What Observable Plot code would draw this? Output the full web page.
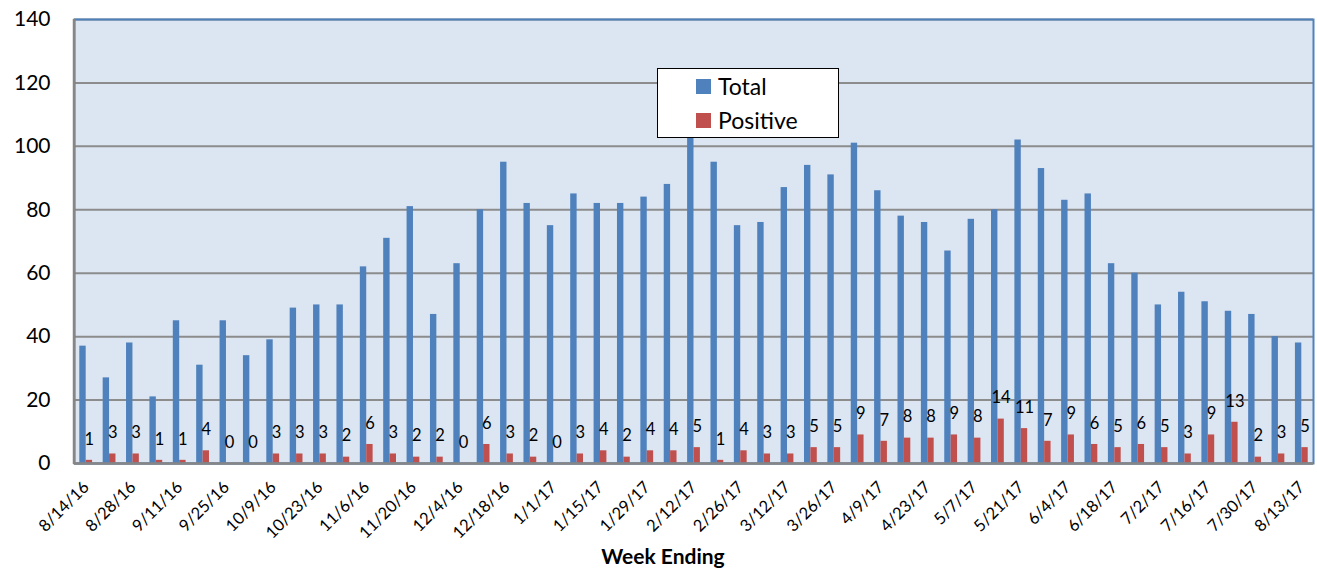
<!DOCTYPE html>
<html><head><meta charset="utf-8">
<script src="https://cdn.jsdelivr.net/npm/d3@7"></script>
<script src="https://cdn.jsdelivr.net/npm/@observablehq/plot@0.6"></script>
<style>
body{margin:0;background:#fff;font-family:Lato,"Open Sans",sans-serif;color:#000;}
#wrap{position:relative;width:1317px;height:568px;}
#chart svg{overflow:visible;}
#xlabel{position:absolute;left:513px;width:300px;top:543px;text-align:center;font-weight:bold;font-size:21px;line-height:26px;}
#legend{position:absolute;left:657px;top:68px;width:182px;height:70px;background:#fff;border:1.5px solid #000;box-sizing:border-box;padding-left:38px;padding-top:0px;}
.item{display:flex;align-items:center;height:34px;font-size:23px;}
.sw{width:15px;height:15px;margin-right:7px;}
</style></head><body>
<div id="wrap"><div id="chart"></div><div id="xlabel">Week Ending</div><div id="legend"></div></div>
<script>
const weeks = ["8/14/16","8/21/16","8/28/16","9/4/16","9/11/16","9/18/16","9/25/16","10/2/16","10/9/16","10/16/16","10/23/16","10/30/16","11/6/16","11/13/16","11/20/16","11/27/16","12/4/16","12/11/16","12/18/16","12/25/16","1/1/17","1/8/17","1/15/17","1/22/17","1/29/17","2/5/17","2/12/17","2/19/17","2/26/17","3/5/17","3/12/17","3/19/17","3/26/17","4/2/17","4/9/17","4/16/17","4/23/17","4/30/17","5/7/17","5/14/17","5/21/17","5/28/17","6/4/17","6/11/17","6/18/17","6/25/17","7/2/17","7/9/17","7/16/17","7/23/17","7/30/17","8/6/17","8/13/17"];
const total = [37,27,38,21,45,31,45,34,39,49,50,50,62,71,81,47,63,80,95,82,75,85,82,82,84,88,104,95,75,76,87,94,91,101,86,78,76,67,77,80,102,93,83,85,63,60,50,54,51,48,47,40,38];
const positive = [1,3,3,1,1,4,0,0,3,3,3,2,6,3,2,2,0,6,3,2,0,3,4,2,4,4,5,1,4,3,3,5,5,9,7,8,8,9,8,14,11,7,9,6,5,6,5,3,9,13,2,3,5];
const tickLabels = weeks.filter((d, i) => i % 2 === 0);
const yTicks = [0,20,40,60,80,100,120,140];
const seriesNames = ["Total","Positive"];
const seriesColors = ["#4F81BD","#C0504D"];

const rows = weeks.map((w, i) => ({week: w, total: total[i], positive: positive[i]}));

const W = 1317, H = 568, mL = 74, mR = 4, mT = 19, mB = 105;
const bw = (W - mL - mR) / weeks.length;
const barW = 6.4;

const leftLine = (index, scales, values, dims) => {
  const l = document.createElementNS("http://www.w3.org/2000/svg", "line");
  l.setAttribute("x1", dims.marginLeft); l.setAttribute("x2", dims.marginLeft);
  l.setAttribute("y1", dims.marginTop); l.setAttribute("y2", dims.height - dims.marginBottom + 1);
  l.setAttribute("stroke", "#868686"); l.setAttribute("stroke-width", 2.5);
  return l;
};

const chart = Plot.plot({
  width: W, height: H,
  marginLeft: mL, marginRight: mR, marginTop: mT, marginBottom: mB,
  style: {fontFamily: "Lato, 'Open Sans', sans-serif", color: "#000", background: "#fff"},
  x: {domain: weeks, padding: 0, round: false},
  y: {domain: [0, 140]},
  marks: [
    Plot.frame({fill: "#DCE6F2", stroke: "none"}),
    Plot.gridY(yTicks, {stroke: "#8c8c8c", strokeOpacity: 1, strokeWidth: 2}),
    Plot.barY(rows, {x: "week", y: "total", fill: seriesColors[0], insetLeft: bw/2 - barW, insetRight: bw/2}),
    Plot.barY(rows, {x: "week", y: "positive", fill: seriesColors[1], insetLeft: bw/2, insetRight: bw/2 - barW}),
    Plot.frame({stroke: "#4F81BD", strokeWidth: 2, fill: "none"}),
    Plot.ruleY([0], {stroke: "#868686", strokeWidth: 2.5}),
    leftLine,
    Plot.text(rows, {x: "week", y: "positive", text: d => String(d.positive), dx: 3.2, dy: -21, fontSize: 16.5, lineAnchor: "middle", fill: "#000"}),
    Plot.axisY(yTicks, {tickSize: 0, tickPadding: 24, fontSize: 21, label: null}),
    Plot.axisX(tickLabels, {tickSize: 0, tickPadding: 21, tickRotate: -45, fontSize: 16.5, label: null})
  ]
});
document.getElementById("chart").appendChild(chart);

const legend = document.getElementById("legend");
seriesNames.forEach((n, i) => {
  const it = document.createElement("div"); it.className = "item";
  const sw = document.createElement("div"); sw.className = "sw"; sw.style.background = seriesColors[i];
  const tx = document.createElement("span"); tx.textContent = n;
  it.appendChild(sw); it.appendChild(tx); legend.appendChild(it);
});
</script>
</body></html>
